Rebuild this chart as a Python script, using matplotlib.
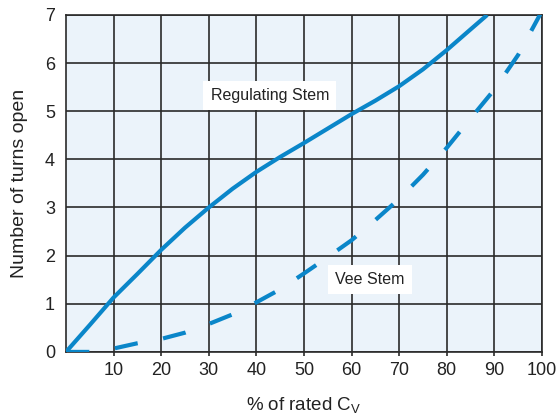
import numpy as np
import matplotlib.pyplot as plt

plt.rcParams['font.family'] = ['Liberation Sans', 'DejaVu Sans']

# Regulating Stem (solid)
reg_x = [0, 5, 10, 15, 20, 25, 30, 35, 40, 45, 50, 55, 60, 65, 70, 75, 80, 85, 88.5]
reg_y = [0, 0.56, 1.13, 1.62, 2.12, 2.58, 3.0, 3.39, 3.74, 4.05, 4.34, 4.64, 4.94, 5.22, 5.52, 5.87, 6.27, 6.7, 7.0]

# Vee Stem (dashed)
vee_x = [0, 5, 10, 15, 20, 25, 30, 35, 40, 45, 50, 55, 60, 65, 70, 75, 80, 85, 90, 95, 100]
vee_y = [0, 0, 0.07, 0.18, 0.27, 0.4, 0.58, 0.78, 1.03, 1.3, 1.63, 1.97, 2.32, 2.74, 3.18, 3.68, 4.24, 4.85, 5.45, 6.17, 7.08]

xticks = [10, 20, 30, 40, 50, 60, 70, 80, 90, 100]
yticks = [0, 1, 2, 3, 4, 5, 6, 7]

blue = '#0A86C9'
ink = '#222222'

fig = plt.figure(figsize=(5.57, 4.15), dpi=100)
ax = fig.add_axes([0.1185, 0.152, 0.8545, 0.812])
ax.set_facecolor('#EBF3FA')

ax.plot(reg_x, reg_y, color=blue, lw=3.0, solid_capstyle='butt', solid_joinstyle='round', zorder=3)
ax.plot(vee_x, vee_y, color=blue, lw=3.0, dashes=(5.6, 6.2), dash_capstyle='butt', zorder=3)

ax.set_xlim(0, 100)
ax.set_ylim(0, 7)
ax.set_xticks(xticks)
ax.set_yticks(yticks)
ax.grid(True, color='#2a2a2a', lw=1.2)
ax.set_axisbelow(True)
for s in ax.spines.values():
    s.set_color('#2a2a2a')
    s.set_linewidth(1.2)
ax.tick_params(length=3, width=1.2, color='#2a2a2a', labelsize=13, labelcolor=ink, pad=4)
ax.tick_params(axis='y', length=0, pad=8)

ax.set_xlabel('% of rated C$_\\mathregular{V}$', fontsize=13.5, color=ink, labelpad=12)
ax.set_ylabel('Number of turns open', fontsize=14, color=ink, labelpad=12)

lbl_box = dict(facecolor='white', edgecolor='none', boxstyle='square,pad=0.45')
ax.text(42.8, 5.33, 'Regulating Stem', fontsize=11.5, ha='center', va='center', color=ink, bbox=lbl_box, zorder=4)
ax.text(63.8, 1.5, 'Vee Stem', fontsize=11.5, ha='center', va='center', color=ink, bbox=lbl_box, zorder=4)

fig.savefig('out.png', dpi=100)
